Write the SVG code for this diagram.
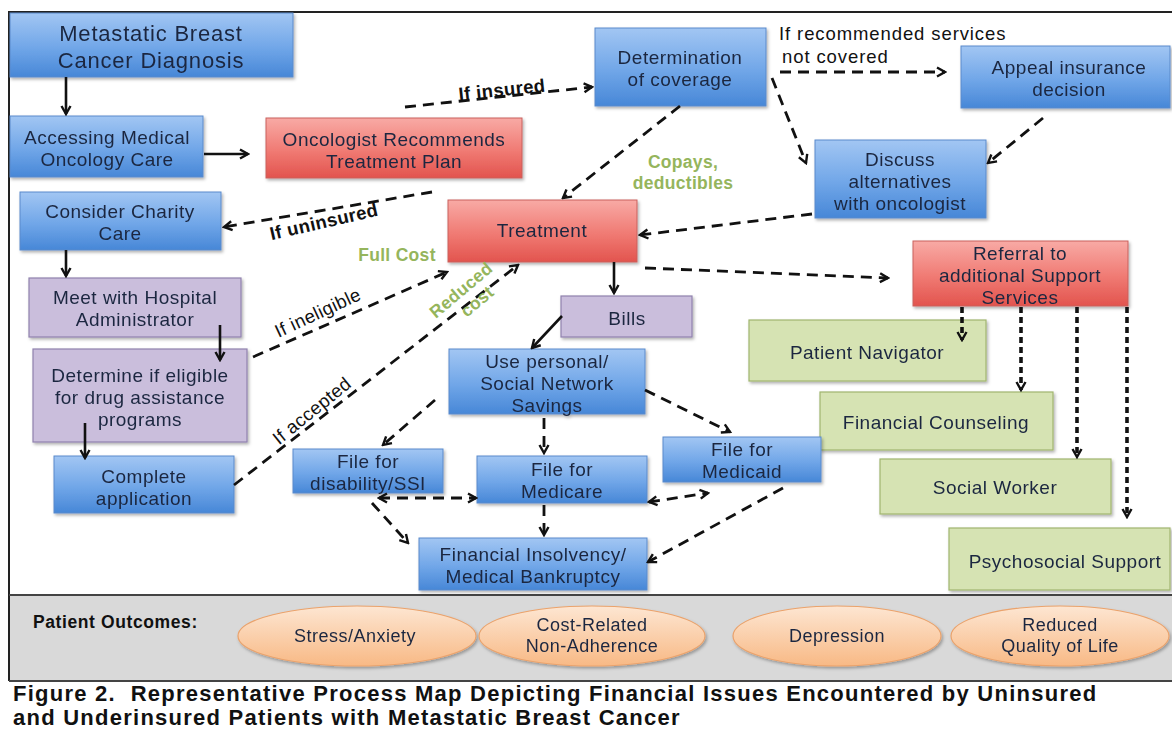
<svg xmlns="http://www.w3.org/2000/svg" width="1172" height="730" viewBox="0 0 1172 730">
<style>
.t{font-family:"Liberation Sans",Arial,sans-serif;font-size:19px;letter-spacing:0.5px;fill:#1b2740;text-anchor:middle}
.lbl{font-family:"Liberation Sans",Arial,sans-serif;font-size:18.5px;letter-spacing:0.4px;fill:#111;text-anchor:middle}
.b{font-weight:bold}
.g{font-family:"Liberation Sans",Arial,sans-serif;font-size:17.5px;letter-spacing:0.3px;font-weight:bold;fill:#95b55c;text-anchor:middle}
.blue{fill:url(#gBlue);stroke:#5a8acb;stroke-width:1}
.red{fill:url(#gRed);stroke:#c9615c;stroke-width:1}
.pur{fill:#cabedc;stroke:#8f81ad;stroke-width:1.2}
.grn{fill:#d6e3b3;stroke:#a0b56e;stroke-width:1.2}
.ell{fill:url(#gOr);stroke:#eba36c;stroke-width:1.2}
.sh{filter:url(#shadow)}
.solid{fill:none;stroke:#111;stroke-width:2.6;marker-end:url(#ah)}
.dash{fill:none;stroke:#111;stroke-width:2.8;stroke-dasharray:11 7;marker-end:url(#ah)}
.dbl{marker-start:url(#ah)}
.dot{fill:none;stroke:#111;stroke-width:3.6;stroke-dasharray:6 4;marker-end:url(#ah)}
</style>
<defs>
<linearGradient id="gBlue" x1="0" y1="0" x2="0" y2="1">
<stop offset="0" stop-color="#a2c6f3"/><stop offset="0.55" stop-color="#70a6e8"/><stop offset="1" stop-color="#4787d7"/>
</linearGradient>
<linearGradient id="gRed" x1="0" y1="0" x2="0" y2="1">
<stop offset="0" stop-color="#f8aaa5"/><stop offset="0.55" stop-color="#f07a73"/><stop offset="1" stop-color="#e2544e"/>
</linearGradient>
<linearGradient id="gOr" x1="0" y1="0" x2="0" y2="1">
<stop offset="0" stop-color="#fde6d2"/><stop offset="1" stop-color="#f8b985"/>
</linearGradient>
<filter id="shadow" x="-10%" y="-10%" width="125%" height="130%">
<feDropShadow dx="1.5" dy="2" stdDeviation="1.5" flood-color="#000" flood-opacity="0.3"/>
</filter>
<marker id="ah" viewBox="0 0 12 12" refX="10" refY="6" markerWidth="12" markerHeight="12" markerUnits="userSpaceOnUse" orient="auto-start-reverse">
<path d="M2,1.5 L10,6 L2,10.5" fill="none" stroke="#111" stroke-width="2.4" stroke-linejoin="miter"/>
</marker>
</defs>

<rect x="0" y="0" width="1172" height="730" fill="#fff"/>

<g id="frame">
<rect x="9" y="596" width="1163" height="84" fill="#d9d9d9"/>
<line x1="9" y1="12" x2="1172" y2="12" stroke="#222" stroke-width="2"/>
<line x1="9" y1="11" x2="9" y2="681" stroke="#222" stroke-width="2"/>
<line x1="9" y1="595" x2="1172" y2="595" stroke="#444" stroke-width="2"/>
<line x1="9" y1="681" x2="1172" y2="681" stroke="#444" stroke-width="2"/>
</g>

<g id="n-diagnosis" class="sh"><rect class="blue" x="10" y="13" width="283" height="64"/>
<text class="t" x="151" y="41" style="font-size:22px;letter-spacing:0.8px">Metastatic Breast</text>
<text class="t" x="151" y="68" style="font-size:22px;letter-spacing:0.8px">Cancer Diagnosis</text></g>

<g id="n-accessing" class="sh"><rect class="blue" x="10" y="116" width="193" height="61"/>
<text class="t" x="107" y="144">Accessing Medical</text>
<text class="t" x="107" y="166">Oncology Care</text></g>

<g id="n-oncologist" class="sh"><rect class="red" x="266" y="118" width="256" height="60"/>
<text class="t" x="394" y="146">Oncologist Recommends</text>
<text class="t" x="394" y="168">Treatment Plan</text></g>

<g id="n-charity" class="sh"><rect class="blue" x="20" y="192" width="201" height="58"/>
<text class="t" x="120" y="218">Consider Charity</text>
<text class="t" x="120" y="240">Care</text></g>

<g id="n-meet" class="sh"><rect class="pur" x="29" y="278" width="212" height="59"/>
<text class="t" x="135" y="304">Meet with Hospital</text>
<text class="t" x="135" y="326">Administrator</text></g>

<g id="n-eligible" class="sh"><rect class="pur" x="33" y="349" width="214" height="93"/>
<text class="t" x="140" y="382">Determine if eligible</text>
<text class="t" x="140" y="404">for drug assistance</text>
<text class="t" x="140" y="426">programs</text></g>

<g id="n-complete" class="sh"><rect class="blue" x="54" y="456" width="180" height="57"/>
<text class="t" x="144" y="483">Complete</text>
<text class="t" x="144" y="505">application</text></g>

<g id="n-coverage" class="sh"><rect class="blue" x="595" y="28" width="171" height="78"/>
<text class="t" x="680" y="64">Determination</text>
<text class="t" x="680" y="86">of coverage</text></g>

<g id="n-appeal" class="sh"><rect class="blue" x="961" y="46" width="209" height="62"/>
<text class="t" x="1069" y="74">Appeal insurance</text>
<text class="t" x="1069" y="96">decision</text></g>

<g id="n-discuss" class="sh"><rect class="blue" x="815" y="140" width="171" height="78"/>
<text class="t" x="900" y="166">Discuss</text>
<text class="t" x="900" y="188">alternatives</text>
<text class="t" x="900" y="210">with oncologist</text></g>

<g id="n-treatment" class="sh"><rect class="red" x="448" y="200" width="189" height="62"/>
<text class="t" x="542" y="237">Treatment</text></g>

<g id="n-referral" class="sh"><rect class="red" x="913" y="241" width="215" height="65"/>
<text class="t" x="1020" y="260">Referral to</text>
<text class="t" x="1020" y="282">additional Support</text>
<text class="t" x="1020" y="304">Services</text></g>

<g id="n-navigator" class="sh"><rect class="grn" x="749" y="320" width="237" height="61"/>
<text class="t" x="867" y="359">Patient Navigator</text></g>

<g id="n-counseling" class="sh"><rect class="grn" x="820" y="392" width="233" height="58"/>
<text class="t" x="936" y="429">Financial Counseling</text></g>

<g id="n-social" class="sh"><rect class="grn" x="880" y="459" width="231" height="55"/>
<text class="t" x="995" y="494">Social Worker</text></g>

<g id="n-psychosocial" class="sh"><rect class="grn" x="949" y="528" width="221" height="62"/>
<text class="t" x="1065" y="568">Psychosocial Support</text></g>

<g id="n-bills" class="sh"><rect class="pur" x="561" y="296" width="131" height="41"/>
<text class="t" x="627" y="325">Bills</text></g>

<g id="n-savings" class="sh"><rect class="blue" x="449" y="349" width="196" height="65"/>
<text class="t" x="547" y="368">Use personal/</text>
<text class="t" x="547" y="390">Social Network</text>
<text class="t" x="547" y="412">Savings</text></g>

<g id="n-disability" class="sh"><rect class="blue" x="293" y="449" width="150" height="44"/>
<text class="t" x="368" y="468">File for</text>
<text class="t" x="368" y="490">disability/SSI</text></g>

<g id="n-medicare" class="sh"><rect class="blue" x="477" y="456" width="170" height="47"/>
<text class="t" x="562" y="476">File for</text>
<text class="t" x="562" y="498">Medicare</text></g>

<g id="n-medicaid" class="sh"><rect class="blue" x="663" y="437" width="158" height="45"/>
<text class="t" x="742" y="456">File for</text>
<text class="t" x="742" y="478">Medicaid</text></g>

<g id="n-insolvency" class="sh"><rect class="blue" x="419" y="538" width="228" height="52"/>
<text class="t" x="533" y="561">Financial Insolvency/</text>
<text class="t" x="533" y="583">Medical Bankruptcy</text></g>

<g id="connectors">
<path class="solid" d="M66,77 L66,114"/>
<path class="solid" d="M204,154 L248,154"/>
<path class="solid" d="M66,250 L66,276"/>
<path class="solid" d="M220,325 L220,360"/>
<path class="solid" d="M85,423 L85,458"/>
<path class="solid" d="M614,262 L614,293"/>
<path class="solid" d="M562,316 L532,348"/>

<path class="dash" d="M405,107 L592,87"/>
<path class="dash" d="M432,192 L224,227"/>
<path class="dash" d="M680,106 L563,198"/>
<path class="dash" d="M780,72 L945,72"/>
<path class="dash" d="M772,78 L806,163"/>
<path class="dash" d="M1043,118 L988,163"/>
<path class="dash" d="M812,214 L640,235"/>
<path class="dash" d="M645,268 L888,278"/>
<path class="dash" d="M253,357 L447,272"/>
<path class="dash" d="M234,485 L518,265"/>
<path class="dash" d="M435,400 L383,445"/>
<path class="dash" d="M544,418 L544,453"/>
<path class="dash" d="M645,390 L730,432"/>
<path class="dash dbl" d="M379,498 L476,498"/>
<path class="dash dbl" d="M649,502 L708,493"/>
<path class="dash" d="M544,505 L544,535"/>
<path class="dash" d="M372,503 L408,543"/>
<path class="dash" d="M783,488 L648,562"/>

<path class="dot" d="M962,307 L962,340"/>
<path class="dot" d="M1021,307 L1021,390"/>
<path class="dot" d="M1077,307 L1077,457"/>
<path class="dot" d="M1127,307 L1127,517"/>

<text class="lbl b" x="502" y="96" transform="rotate(-6 502 90)">If insured</text>
<text class="lbl b" x="324" y="228" transform="rotate(-13 324 222)">If uninsured</text>
<text class="lbl" x="318" y="319" transform="rotate(-25 318 313)">If ineligible</text>
<text class="lbl" x="312" y="417" transform="rotate(-39 312 411)">If accepted</text>
<text class="lbl" x="779" y="40" style="text-anchor:start;letter-spacing:0.9px">If recommended services</text>
<text class="lbl" x="782" y="63" style="text-anchor:start;letter-spacing:0.9px">not covered</text>
<text class="g" x="683" y="168">Copays,</text>
<text class="g" x="683" y="189">deductibles</text>
<text class="g" x="397" y="261">Full Cost</text>
<g transform="translate(461,290) rotate(-40)">
<text class="g" x="0" y="6">Reduced</text>
<text class="g" x="5" y="25">cost</text>
</g>
</g>

<g id="outcomes">
<text x="33" y="628" style="font-family:'Liberation Sans',Arial,sans-serif;font-size:17.5px;letter-spacing:0.6px;font-weight:bold;fill:#111">Patient Outcomes:</text>
<g id="o-stress" class="sh"><ellipse class="ell" cx="357" cy="636" rx="119" ry="30"/>
<text class="t" x="355" y="642" style="font-size:18px">Stress/Anxiety</text></g>
<g id="o-adherence" class="sh"><ellipse class="ell" cx="592" cy="636" rx="113" ry="30"/>
<text class="t" x="592" y="631" style="font-size:18px">Cost-Related</text>
<text class="t" x="592" y="652" style="font-size:18px">Non-Adherence</text></g>
<g id="o-depression" class="sh"><ellipse class="ell" cx="837" cy="636" rx="104" ry="30"/>
<text class="t" x="837" y="642" style="font-size:18px">Depression</text></g>
<g id="o-qol" class="sh"><ellipse class="ell" cx="1060" cy="636" rx="109" ry="30"/>
<text class="t" x="1060" y="631" style="font-size:18px">Reduced</text>
<text class="t" x="1060" y="652" style="font-size:18px">Quality of Life</text></g>
</g>

<g id="caption" style="font-family:'Liberation Sans',Arial,sans-serif;font-size:22px;letter-spacing:1.25px;font-weight:bold;fill:#111">
<text x="13" y="700.5" xml:space="preserve">Figure 2.  Representative Process Map Depicting Financial Issues Encountered by Uninsured</text>
<text x="13" y="725.3">and Underinsured Patients with Metastatic Breast Cancer</text>
</g>
</svg>
